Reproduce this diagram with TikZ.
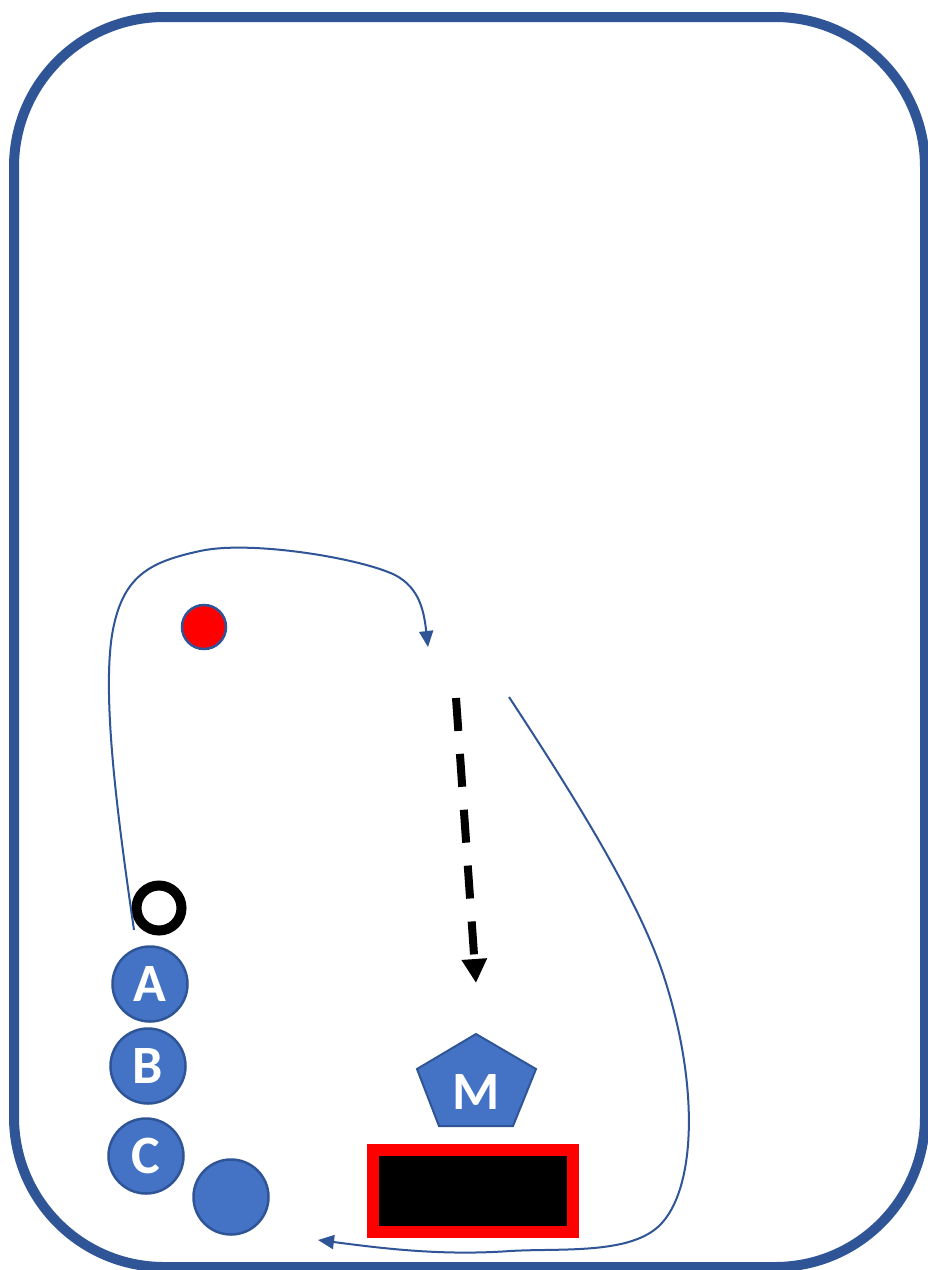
\documentclass[tikz,border=0pt]{standalone}
\usepackage{fontspec}
\setmainfont{Carlito}
\usetikzlibrary{arrows.meta}
\definecolor{fillblue}{HTML}{4472C4}
\definecolor{edgeblue}{HTML}{2F5597}
\begin{document}
\begin{tikzpicture}[x=1pt,y=-1pt,
  token/.style={circle,draw=edgeblue,line width=2.5pt,fill=fillblue,minimum size=75pt,inner sep=0pt,text=white,font=\fontsize{54}{54}\selectfont\bfseries},
  route/.style={draw=edgeblue,line width=2pt,-{Triangle[length=16pt,width=14pt]}},
  lbl/.style={text=white,inner sep=0pt,font=\fontsize{54}{54}\selectfont\bfseries}
]
\useasboundingbox (0,0) rectangle (928,1270);
\fill[white] (0,0) rectangle (928,1270);
% frame
\draw[edgeblue,line width=10pt,rounded corners=150pt] (14,17) rectangle (925,1267);
% tokens
\node[circle,draw=edgeblue,line width=2.5pt,fill=red,minimum size=44pt,inner sep=0pt] (red) at (204,627) {};
\node[circle,draw=black,line width=10pt,fill=white,minimum size=45pt,inner sep=0pt] (ring) at (159,908) {};
\node[token] (A) at (150,984) {A};
\node[token] (B) at (148,1066) {B};
\node[token] (C) at (146,1156) {C};
\node[token] (D) at (231,1197) {};
% pentagon
\draw[fill=fillblue,draw=edgeblue,line width=2pt] (476,1034) -- (536,1069) -- (513,1126) -- (439,1126) -- (417,1069) -- cycle;
\node[lbl] (M) at (476,1092) {M};
% rectangle
\node[draw=red,fill=black,line width=12pt,minimum width=200pt,minimum height=82pt,inner sep=0pt] (box) at (473,1191) {};
% coordinates
\coordinate (c1s) at (134,930);
\coordinate (c1e) at (428,647);
\coordinate (c2s) at (509,697);
\coordinate (c2e) at (318,1240);
\coordinate (ds) at (456,698);
\coordinate (de) at (476,983);
% curves
\draw[route] (c1s) .. controls (118,820) and (102,700) .. (112,635)
  .. controls (122,575) and (150,562) .. (200,551)
  .. controls (250,540) and (360,558) .. (395,575)
  .. controls (420,588) and (424,612) .. (c1e);
\draw[route] (c2s) .. controls (570,790) and (640,900) .. (665,980)
  .. controls (700,1090) and (695,1190) .. (660,1225)
  .. controls (630,1255) and (560,1248) .. (510,1251)
  .. controls (440,1256) and (380,1248) .. (c2e);
% dashed arrow
\draw[black,line width=8pt,dash pattern=on 33pt off 23pt,-{Triangle[length=24pt,width=24pt]}] (ds) -- (de);
\end{tikzpicture}
\end{document}
